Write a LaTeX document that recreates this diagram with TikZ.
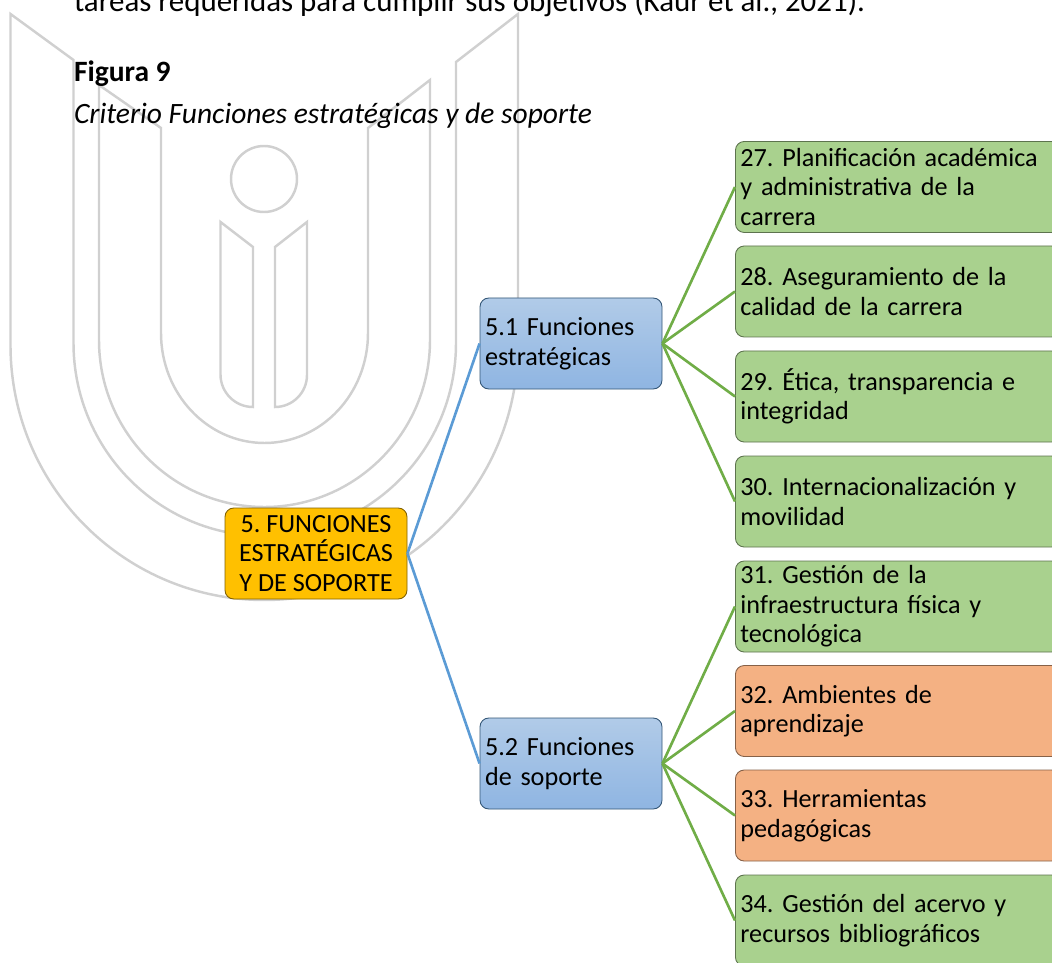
\documentclass[tikz,border=0pt]{standalone}
\usepackage{fontspec}
\setmainfont{Carlito}
\usetikzlibrary{positioning}
\frenchspacing
\definecolor{mygrey}{RGB}{208,208,208}
\definecolor{myblue}{RGB}{91,155,213}
\definecolor{mygreen}{RGB}{112,173,71}
\definecolor{myfillgreen}{RGB}{169,209,142}
\definecolor{myfillorange}{RGB}{244,177,131}
\definecolor{mygold}{RGB}{255,192,0}
\tikzset{
  mark line/.style={draw=mygrey, line width=1.4pt},
  plain/.style={anchor=base west, inner sep=0, outer sep=0, font=\fontsize{16.8}{20}\selectfont},
  rootbox/.style={draw=black!50!mygold, line width=0.5pt, rounded corners=5, fill=mygold,
    minimum width=3.64cm, minimum height=1.82cm, inner sep=0, align=center,
    font=\fontsize{14.9}{16.8}\selectfont},
  subbox/.style={draw=black!45!myblue, line width=0.5pt, rounded corners=5,
    top color={rgb,255:red,177;green,203;blue,232}, bottom color={rgb,255:red,143;green,181;blue,226},
    text width=3.44cm, inner xsep=0.1cm, inner ysep=0, minimum height=1.82cm, align=left,
    font=\fontsize{14.9}{16.8}\selectfont},
  leafgreen/.style={draw=black!45!myfillgreen, line width=0.5pt, rounded corners=5, fill=myfillgreen,
    anchor=west, text width=6.3cm, inner xsep=0.1cm, inner ysep=0, minimum height=1.82cm, align=left,
    font=\fontsize{14.9}{16.8}\selectfont},
  leaforange/.style={leafgreen, draw=black!45!myfillorange, fill=myfillorange},
  bluelink/.style={draw=myblue, line width=1.5pt},
  greenlink/.style={draw=mygreen, line width=1.5pt}
}

\begin{document}
\begin{tikzpicture}
\useasboundingbox (0,0) rectangle (21.04,19.24);

%watermark
\draw[mark line] (0.21,18.96) -- (0.21,12.34) arc[start angle=180,end angle=360,x radius=5.075,y radius=5.1]
  -- (10.36,18.96) -- (9.12,18) -- (9.12,12.38) arc[start angle=0,end angle=-180,x radius=3.825,y radius=3.86]
  -- (1.47,18.04) -- cycle;
\draw[mark line] (1.98,17.54) -- (1.98,12.44) arc[start angle=180,end angle=360,x radius=3.31,y radius=3.34]
  -- (8.6,17.64) -- (7.36,16.68) -- (7.36,12.58) arc[start angle=0,end angle=-180,x radius=2.07,y radius=2.2]
  -- (3.22,16.68) -- cycle;
\draw[mark line] (5.28,15.66) circle (0.66);
\draw[mark line] (4.41,14.8) -- (5.06,14.3) -- (5.06,11.1) arc[start angle=270,end angle=180,radius=0.65] -- cycle;
\draw[mark line] (6.14,14.8) -- (5.5,14.3) -- (5.5,11.1) arc[start angle=-90,end angle=0,radius=0.64] -- cycle;

%caption
\node[plain, font=\fontsize{17.6}{20}\selectfont] (intro) at (1.48,19.01) {tareas requeridas para cumplir sus objetivos (Kaur et al., 2021).};
\node[plain] (figtitle) at (1.48,17.61) {\textbf{Figura 9}};
\node[plain] (figname) at (1.48,16.77) {\textit{Criterio Funciones estratégicas y de soporte}};

%boxes
\node[rootbox] (funciones) at (6.32,8.17) {5. FUNCIONES\\ESTRATÉGICAS\\Y DE SOPORTE};
\node[subbox] (estrategicas) at (11.42,12.37) {5.1 Funciones\\estratégicas};
\node[subbox] (soporte) at (11.42,3.97) {5.2 Funciones\\de soporte};

\node[leafgreen] (c27) at (14.7,15.5) {27. Planificación académica\\y administrativa de la\\carrera};
\node[leafgreen] (c28) at (14.7,13.41) {28. Aseguramiento de la\\calidad de la carrera};
\node[leafgreen] (c29) at (14.7,11.31) {29. Ética, transparencia e\\integridad};
\node[leafgreen] (c30) at (14.7,9.21) {30. Internacionalización y\\movilidad};
\node[leafgreen] (c31) at (14.7,7.11) {31. Gestión de la\\infraestructura física y\\tecnológica};
\node[leaforange] (c32) at (14.7,5.02) {32. Ambientes de\\aprendizaje};
\node[leaforange] (c33) at (14.7,2.93) {33. Herramientas\\pedagógicas};
\node[leafgreen] (c34) at (14.7,0.83) {34. Gestión del acervo y\\recursos bibliográficos};

%links
\draw[bluelink] (funciones.east) -- (estrategicas.west);
\draw[bluelink] (funciones.east) -- (soporte.west);
\foreach \leaf in {c27,c28,c29,c30}
  \draw[greenlink] (estrategicas.east) -- (\leaf.west);
\foreach \leaf in {c31,c32,c33,c34}
  \draw[greenlink] (soporte.east) -- (\leaf.west);

\end{tikzpicture}
\end{document}
